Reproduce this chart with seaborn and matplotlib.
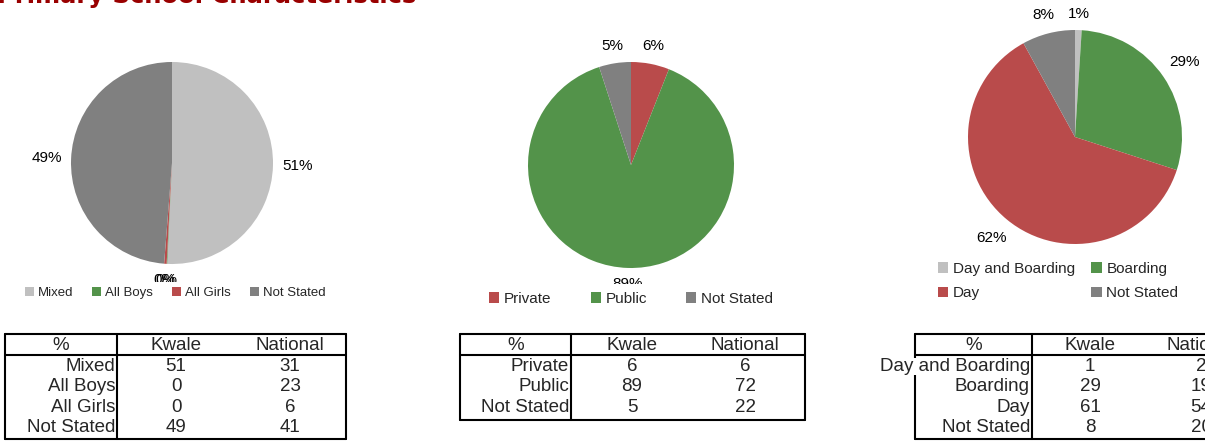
import matplotlib
matplotlib.use("Agg")
import numpy as np
import matplotlib.pyplot as plt
import matplotlib.patches as mpatches
import seaborn as sns

# DATA
TITLE = "Primary School Characteristics"

type_labels  = ["Mixed", "All Boys", "All Girls", "Not Stated"]
type_pie     = [51, 0.1, 0.4, 49]          # pie shares (the two zero classes show as a hairline)
type_kwale   = [51, 0, 0, 49]
type_nat     = [31, 23, 6, 41]

own_labels   = ["Private", "Public", "Not Stated"]
own_pie      = [6, 89, 5]
own_kwale    = [6, 89, 5]
own_nat      = [6, 72, 22]

board_labels = ["Day and Boarding", "Boarding", "Day", "Not Stated"]
board_pie    = [1, 29, 62, 8]
board_kwale  = [1, 29, 61, 8]
board_nat    = [2, 19, 54, 20]

LIGHT = "#C0C0C0"
GREEN = "#53934A"
RED   = "#B94B4B"
GREY  = "#808080"

type_colors  = [LIGHT, GREEN, RED, GREY]
own_colors   = [RED, GREEN, GREY]
board_colors = [LIGHT, GREEN, RED, GREY]

sns.set_style("white")
plt.rcParams["font.family"] = ["Liberation Sans", "DejaVu Sans"]

W, H = 1205, 443
fig = plt.figure(figsize=(W / 100, H / 100), dpi=100)
renderer = fig.canvas.get_renderer()

# background axes in pixel units (y down) for title and tables
bg = fig.add_axes([0, 0, 1, 1])
bg.set_xlim(0, W)
bg.set_ylim(H, 0)
bg.axis("off")

bg.text(-3, 3, TITLE, fontsize=17.5, fontweight="bold", color="#990000",
        family="DejaVu Sans", va="baseline", ha="left")


def pie_axes(cx, cy, half=150):
    ax = fig.add_axes([(cx - half) / W, 1 - (cy + half) / H, 2 * half / W, 2 * half / H])
    ax.set_zorder(1)
    return ax


def draw_pie(cx, cy, r, values, colors, gap=9):
    ax = pie_axes(cx, cy)
    wedges, _, pcts = ax.pie(values, colors=colors, startangle=90, counterclock=False,
                             radius=r, autopct="%1.0f%%",
                             wedgeprops=dict(linewidth=0),
                             textprops=dict(fontsize=11, color="black"))
    ax.set_xlim(-150, 150)
    ax.set_ylim(-150, 150)
    ax.axis("off")
    # put each label just outside the rim, like Excel's outside-end labels
    for w, t in zip(wedges, pcts):
        ang = np.deg2rad((w.theta1 + w.theta2) / 2)
        dx, dy = np.cos(ang), np.sin(ang)
        bb = t.get_window_extent(renderer)
        d = r + gap + abs(dx) * bb.width / 2 + abs(dy) * bb.height / 2
        t.set_position((dx * d, dy * d))
    return ax


draw_pie(172, 163, 101, type_pie, type_colors)
draw_pie(631, 165, 103, own_pie, own_colors)
draw_pie(1075, 137, 107, board_pie, board_colors)


def legend(labels, colors, x, y, size, ncol, colsp, labelsp=0.5, pad=0.2):
    handles = [mpatches.Patch(facecolor=c, edgecolor="none", label=l)
               for l, c in zip(labels, colors)]
    lg = fig.legend(handles=handles, loc="center", bbox_to_anchor=(x / W, 1 - y / H),
                    ncol=ncol, fontsize=size, frameon=True, facecolor="white",
                    edgecolor="none", framealpha=1, handlelength=0.68,
                    handleheight=0.68, handletextpad=0.3, columnspacing=colsp,
                    labelspacing=labelsp, borderpad=pad, borderaxespad=0, fancybox=False)
    lg.set_zorder(5)
    return lg


legend(type_labels, type_colors, 175, 293, 9.5, 4, 1.45, pad=0.35)
legend(own_labels, own_colors, 631, 299, 11, 3, 2.55, pad=0.55)
# two-column legend filled row by row
order = [0, 2, 1, 3]
legend([board_labels[i] for i in order], [board_colors[i] for i in order],
       1058, 281, 11, 2, 1.1, 0.7)


def draw_table(left, right, split, col_x, labels, kwale, nat, bottom, top=334, head=355, row_h=20.5):
    lw = 1.5
    bg.plot([left, right], [top, top], color="black", lw=lw)
    bg.plot([left, right], [head, head], color="black", lw=lw)
    bg.plot([left, right], [bottom, bottom], color="black", lw=lw)
    bg.plot([left, left], [top, bottom], color="black", lw=lw)
    bg.plot([right, right], [top, bottom], color="black", lw=lw)
    bg.plot([split, split], [top, bottom], color="black", lw=lw)
    fs = 13.5
    hy = (top + head) / 2 + 1
    bg.text((left + split) / 2, hy, "%", fontsize=fs, ha="center", va="center")
    bg.text(col_x[0], hy, "Kwale", fontsize=fs, ha="center", va="center")
    bg.text(col_x[1], hy, "National", fontsize=fs, ha="center", va="center")
    for i, (lab, k, n) in enumerate(zip(labels, kwale, nat)):
        y = head + row_h * (i + 0.55)
        bg.text(split - 2, y, lab, fontsize=fs, ha="right", va="center",
                bbox=dict(facecolor="white", edgecolor="none", pad=0), zorder=3)
        bg.text(col_x[0], y, str(k), fontsize=fs, ha="center", va="center")
        bg.text(col_x[1], y, str(n), fontsize=fs, ha="center", va="center")


draw_table(5, 346, 117, (176, 290), type_labels, type_kwale, type_nat, 439)
draw_table(460, 805, 571, (632, 745), own_labels, own_kwale, own_nat, 420)
draw_table(915, 1260, 1032, (1090, 1201), board_labels, board_kwale, board_nat, 439)

fig.savefig("out.png", dpi=100)
